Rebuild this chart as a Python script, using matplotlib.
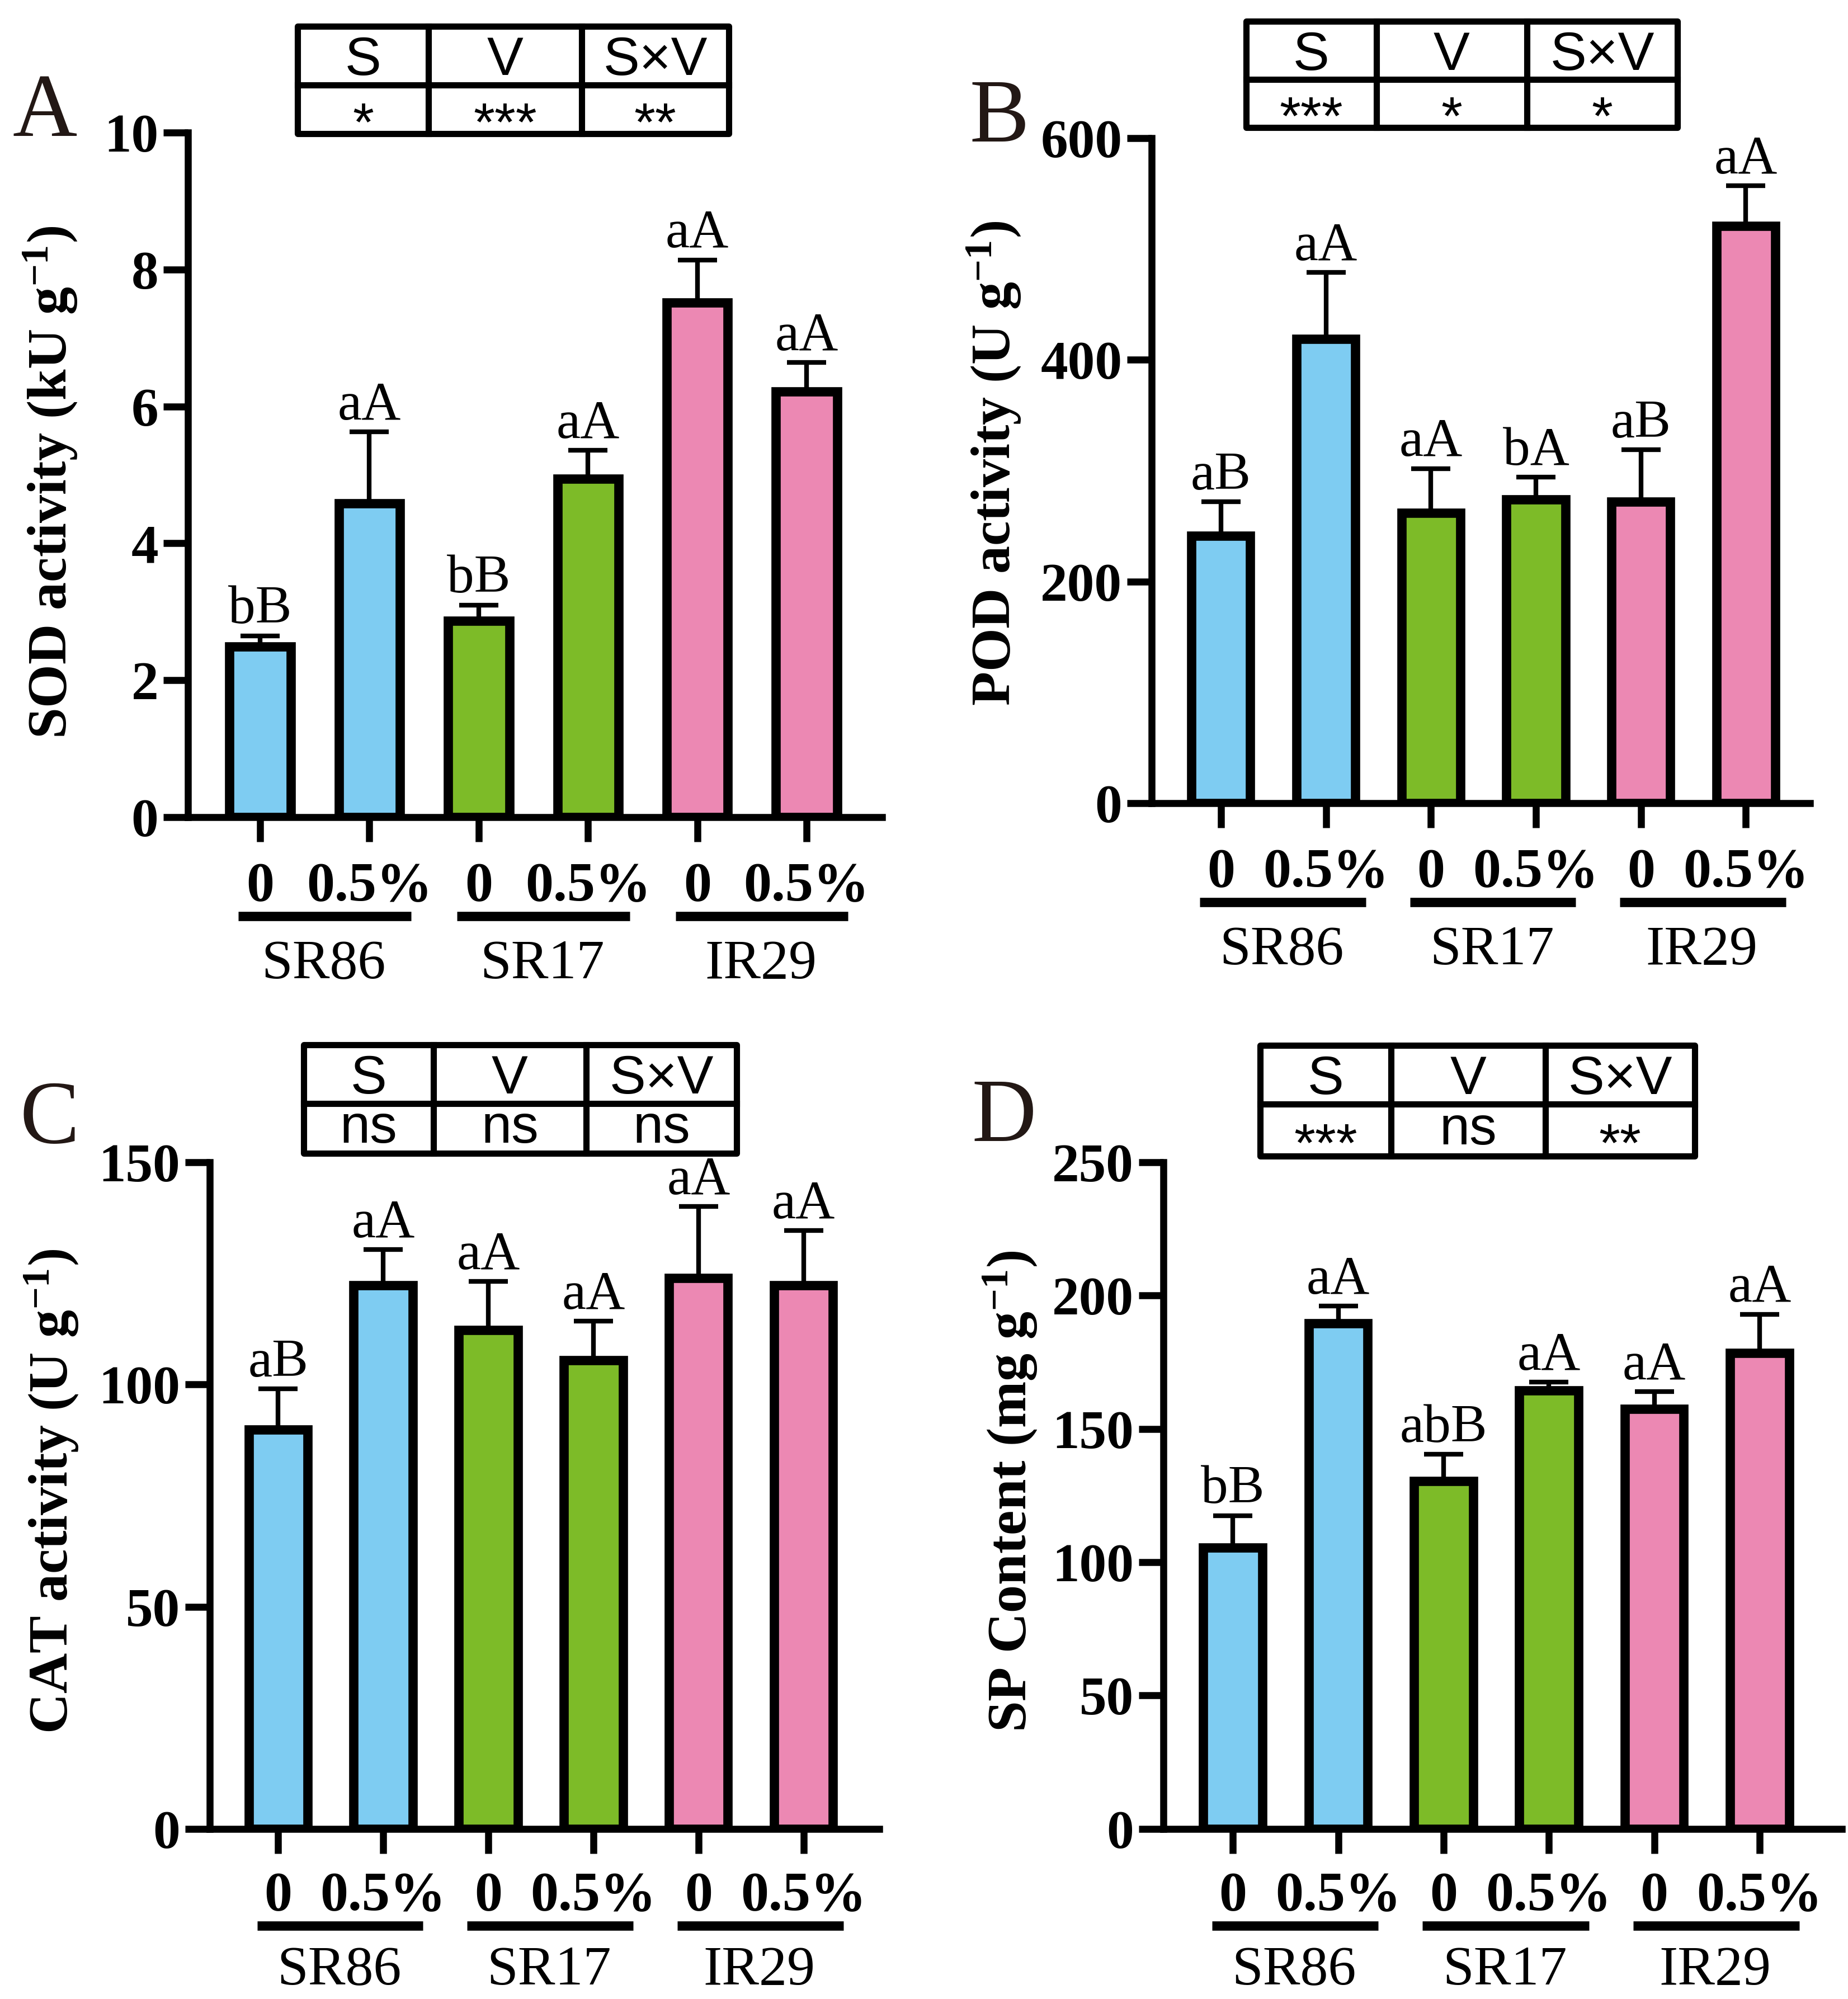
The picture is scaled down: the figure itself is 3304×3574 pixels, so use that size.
import matplotlib
matplotlib.use('Agg')
import matplotlib.pyplot as plt
import matplotlib.transforms as mtransforms
from matplotlib.patches import Rectangle
import numpy as np

plt.rcParams['font.family'] = ['Liberation Serif', 'DejaVu Serif']
plt.rcParams['mathtext.fontset'] = 'custom'
plt.rcParams['mathtext.rm'] = 'Liberation Serif:bold'
plt.rcParams['mathtext.it'] = 'Liberation Serif:bold'
plt.rcParams['mathtext.bf'] = 'Liberation Serif:bold'

# dados
groups = ['SR86', 'SR17', 'IR29']
conc = ['0', '0.5%']
table_head = ['S', 'V', 'S×V']

sod = [2.49, 4.58, 2.87, 4.94, 7.52, 6.22]
sod_err = [0.16, 1.05, 0.23, 0.42, 0.62, 0.42]
sod_letters = ['bB', 'aA', 'bB', 'aA', 'aA', 'aA']
sod_sig = ['*', '***', '**']

pod = [241, 419, 262, 274, 272, 521]
pod_err = [31, 60, 40, 20, 47, 36]
pod_letters = ['aB', 'aA', 'aA', 'bA', 'aB', 'aA']
pod_sig = ['***', '*', '*']

cat = [89.8, 122.3, 112.2, 105.4, 124.0, 122.3]
cat_err = [9.2, 8.0, 11.0, 8.8, 16.0, 12.3]
cat_letters = ['aB', 'aA', 'aA', 'aA', 'aA', 'aA']
cat_sig = ['ns', 'ns', 'ns']

sp = [105.5, 189.5, 130.5, 164.5, 157.5, 178.5]
sp_err = [12.0, 6.5, 10.0, 3.0, 6.5, 14.5]
sp_letters = ['bB', 'aA', 'abB', 'aA', 'aA', 'aA']
sp_sig = ['***', 'ns', '**']

bar_colors = ['#7ECCF2', '#7ECCF2', '#7DBB28', '#7DBB28', '#EC88B3', '#EC88B3']

W, H = 3304, 3574
fig = plt.figure(figsize=(W / 100, H / 100), dpi=100)


def px_down(px):
    return mtransforms.ScaledTranslation(0, -px / 100, fig.dpi_scale_trans)


def draw_panel(rect, xlim, ymax, yticks, vals, errs, letters, offs):
    ax = fig.add_axes(rect)
    x = np.arange(len(vals))
    ax.errorbar(x, vals, yerr=[np.zeros(len(vals)), errs], fmt='none', ecolor='black',
                elinewidth=6, capsize=25, capthick=6, zorder=1)
    ax.bar(x, vals, width=0.56, color=bar_colors, edgecolor='black', linewidth=12, zorder=2)
    for xi, v, e, t in zip(x, vals, errs, letters):
        ax.annotate(t, (xi, v + e), xytext=(0, 16), textcoords='offset points',
                    ha='center', va='baseline', fontsize=70)
    ax.set_xlim(xlim)
    ax.set_ylim(0, ymax)
    ax.set_yticks(yticks)
    ax.set_xticks(x)
    ax.set_xticklabels([])
    ax.spines['top'].set_visible(False)
    ax.spines['right'].set_visible(False)
    ax.spines['left'].set_linewidth(9)
    ax.spines['bottom'].set_linewidth(9)
    ax.tick_params(width=9, length=32, labelsize=70, pad=6)
    for lab in ax.get_yticklabels():
        lab.set_fontweight('bold')

    # rótulos de concentração, traço e cultivar abaixo do eixo
    xtr = ax.get_xaxis_transform()
    for xi in x:
        ax.text(xi, 0, conc[xi % 2], transform=xtr + px_down(offs[0]), ha='center',
                va='baseline', fontsize=72, fontweight='bold')
    for g in range(3):
        ax.plot([2 * g - 0.2, 2 * g + 1.38], [0, 0], transform=xtr + px_down(offs[1]),
                color='black', lw=12, solid_capstyle='butt', clip_on=False)
        ax.text(2 * g + 0.58, 0, groups[g], transform=xtr + px_down(offs[2]), ha='center',
                va='baseline', fontsize=72)
    return ax


axA = draw_panel([0.1017, 0.5912, 0.3756, 0.3425], (-0.66, 5.69), 10, [0, 2, 4, 6, 8, 10],
                 sod, sod_err, sod_letters, (149, 177, 288))
axB = draw_panel([0.6232, 0.5982, 0.3562, 0.3327], (-0.66, 5.61), 600, [0, 200, 400, 600],
                 pod, pod_err, pod_letters, (149, 177, 288))
axC = draw_panel([0.1135, 0.0851, 0.3623, 0.3335], (-0.65, 5.72), 150, [0, 50, 100, 150],
                 cat, cat_err, cat_letters, (145, 173, 278))
axD = draw_panel([0.6295, 0.0851, 0.3671, 0.3335], (-0.66, 5.78), 250, [0, 50, 100, 150, 200, 250],
                 sp, sp_err, sp_letters, (145, 173, 278))

# camada de cima em pixels para tabelas, letras e rótulos
ov = fig.add_axes([0, 0, 1, 1], zorder=10)
ov.set_xlim(0, W)
ov.set_ylim(H, 0)
ov.axis('off')
ov.patch.set_alpha(0)

sans = ['Liberation Sans', 'DejaVu Sans']
em = 70 * 100 / 72


def draw_table(x0, x1, y0, ym, y1, splits, sig):
    ov.add_patch(Rectangle((x0, y0), x1 - x0, y1 - y0, fill=False, lw=8,
                           edgecolor='black', joinstyle='round'))
    ov.plot([x0, x1], [ym, ym], color='black', lw=8)
    for s in splits:
        ov.plot([s, s], [y0, y1], color='black', lw=8)
    edges = [x0] + splits + [x1]
    for i in range(3):
        cx = (edges[i] + edges[i + 1]) / 2
        ov.text(cx, (y0 + ym) / 2 + 0.358 * em, table_head[i], ha='center', va='baseline',
                fontsize=70, family=sans)
        if sig[i] == 'ns':
            yb = (ym + y1) / 2 + 0.26 * em
        else:
            yb = (ym + y1) / 2 + 0.57 * em
        ov.text(cx, yb, sig[i], ha='center', va='baseline', fontsize=70, family=sans)


draw_table(532, 1303, 47, 152, 239, [766, 1040], sod_sig)
draw_table(2228, 2999, 38, 142, 228, [2461, 2730], pod_sig)
draw_table(543, 1317, 1868, 1973, 2062, [775, 1048], cat_sig)
draw_table(2253, 3030, 1869, 1974, 2067, [2487, 2763], sp_sig)

for lx, ly, t in [(23, 243, 'A'), (1733, 253, 'B'), (36, 2043, 'C'), (1737, 2040, 'D')]:
    ov.text(lx, ly, t, fontsize=115, color='#231815', ha='left', va='baseline')

ylabels = ['SOD activity (kU g$^{-1}$)', 'POD activity (U g$^{-1}$)',
           'CAT activity (U g$^{-1}$)', 'SP Content (mg g$^{-1}$)']
for (cx, cy), t in zip([(90, 862), (1777, 828), (92, 2666), (1806, 2666)], ylabels):
    ov.text(cx, cy, t, rotation=90, ha='center', va='center', fontsize=72, fontweight='bold')

fig.savefig('out.png', dpi=100)
